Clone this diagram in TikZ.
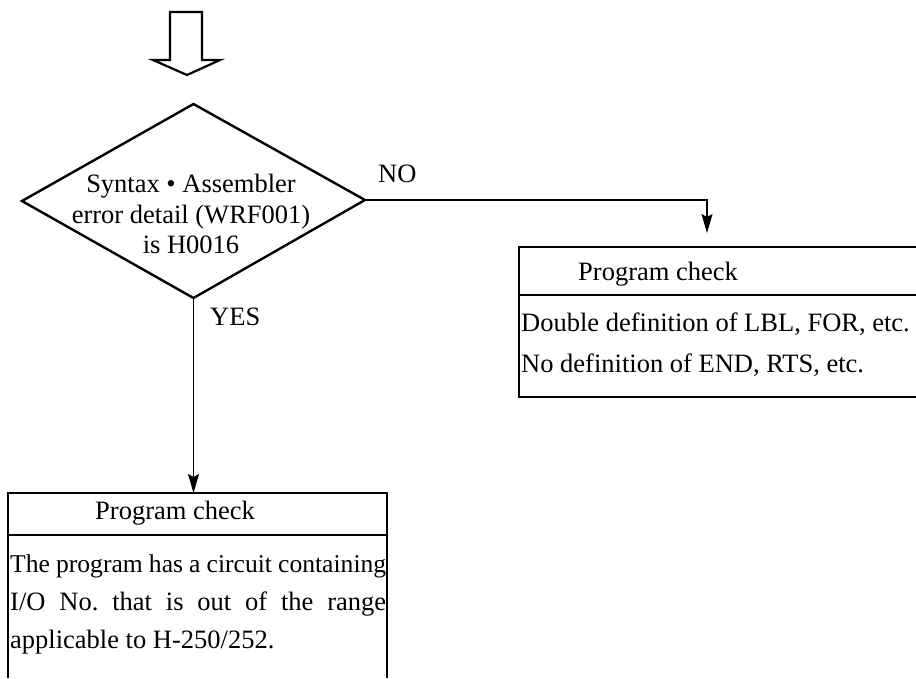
\documentclass[tikz,border=0pt]{standalone}
\usepackage{fontspec}
\setmainfont{Liberation Serif}
\usetikzlibrary{arrows.meta}
\frenchspacing
\begin{document}
\begin{tikzpicture}[x=1pt,y=-1pt,
  txt/.style={font=\fontsize{26.5}{31}\selectfont, inner sep=0pt, anchor=base west},
  flowline/.style={line width=1.1pt},
  boxline/.style={line width=1.3pt},
  tip/.style={-{Stealth[length=19pt,width=11pt,inset=3pt]}},
]
\useasboundingbox (0,0) rectangle (916,678);

% hollow entry arrow
\draw[line width=2.2pt, line join=miter]
  (170,12) -- (202,12) -- (202,60) -- (220,60) -- (187,75) -- (153,60) -- (170,60) -- cycle;

% decision diamond
\coordinate (dT) at (193.5,104);
\coordinate (dR) at (365,200);
\coordinate (dB) at (193.5,298);
\coordinate (dL) at (22,201);
\draw[line width=2.4pt, line join=miter] (dT) -- (dR) -- (dB) -- (dL) -- cycle;
\node[font=\fontsize{26.5}{30.5}\selectfont, align=center, inner sep=0pt] (dtext) at (191,214)
  {Syntax \textbullet\ Assembler\\error detail (WRF001)\\is H0016};

% NO branch
\node[txt] (no) at (378,182) {NO};
\coordinate (noEnd) at (707,233);
\draw[flowline, tip] (dR) -| (noEnd);

% right result box (open on the right)
\coordinate (rTL) at (519,247);
\coordinate (rBL) at (519,397);
\draw[boxline] (916,247) -- (rTL) -- (rBL) -- (916,397);
\draw[boxline] (519,295) -- (916,295);
\node[txt] (rhead) at (578,280) {Program check};
\node[txt] (r1) at (521,331) {Double definition of LBL, FOR, etc.};
\node[txt] (r2) at (521,372) {No definition of END, RTS, etc.};

% YES branch
\node[txt] (yes) at (210,325) {YES};
\draw[boxline] (8,678) -- (8,493) -- (387,493) -- (387,678);
\draw[boxline] (8,535) -- (387,535);
\coordinate (lTop) at (193.5,493);
\draw[flowline, tip] (dB) -- (lTop);
\node[txt] (lhead) at (95,519) {Program check};
\node[txt, font=\fontsize{25.6}{31}\selectfont] (l1) at (10,572) {\makebox[376pt][s]{The program has a circuit containing}};
\node[txt] (l2) at (10,610) {\makebox[376pt][s]{I/O No. that is out of the range}};
\node[txt] (l3) at (10,648) {applicable to H-250/252.};
\end{tikzpicture}
\end{document}
